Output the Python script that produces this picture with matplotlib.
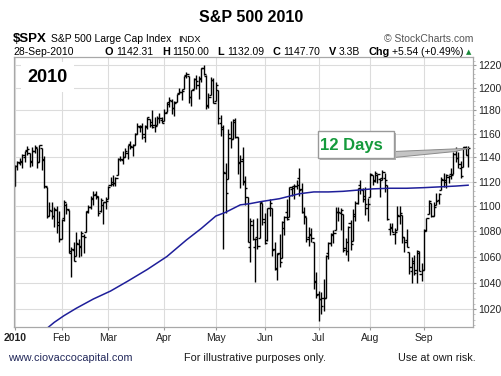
import numpy as np
import pandas as pd
import matplotlib
matplotlib.use('Agg')
import matplotlib.pyplot as plt
from matplotlib.patches import Rectangle, Polygon
from matplotlib.ticker import FixedLocator, FixedFormatter, NullFormatter

plt.rcParams['font.family'] = ['Liberation Sans', 'DejaVu Sans']

# trading days Jan 4 - Sep 28 2010
holidays = ['2010-01-18', '2010-02-15', '2010-04-02', '2010-05-31', '2010-07-05', '2010-09-06']
dates = [d for d in pd.bdate_range('2010-01-04', '2010-09-28').strftime('%Y-%m-%d') if d not in holidays]

opens = [
    1116.56,1132.66,1135.71,1136.27,1140.52,1145.96,1143.81,1137.31,1145.68,1147.72,1136.03,1147.95,1138.68,1115.49,1092.40,1095.80,1091.94,1096.93,1087.61,
    1073.89,1090.05,1100.67,1097.25,1064.12,1065.51,1060.06,1069.68,1067.10,1075.95,1079.13,1096.14,1099.03,1105.49,1110.00,1107.49,1095.89,1101.24,1103.10,
    1105.36,1117.01,1119.36,1119.12,1125.12,1138.40,1137.56,1140.22,1143.96,1151.71,1148.53,1150.83,1159.94,1166.13,1166.68,1157.25,1166.47,1172.70,1170.03,1167.58,1167.71,1173.75,1171.75,
    1171.23,1178.71,1186.01,1188.23,1181.75,1187.47,1194.94,1195.94,1198.69,1210.77,1210.17,1192.06,1199.04,1207.16,1202.52,1207.87,1217.07,1209.92,1184.59,1193.30,1206.77,
    1188.58,1197.50,1169.24,1164.38,1127.04,1122.27,1156.39,1155.43,1170.04,1157.19,1136.52,1138.78,1119.57,1107.34,1067.26,1084.78,1067.42,1075.51,1074.27,1102.59,
    1087.30,1073.01,1098.82,1098.43,1065.84,1050.81,1062.75,1058.77,1082.65,1095.00,1091.21,1114.02,1115.98,1116.16,1122.79,1113.90,1095.57,1090.93,1075.10,1077.50,1071.10,1040.56,
    1031.10,1027.65,1028.09,1028.54,1062.92,1070.50,1077.23,1080.65,1095.61,1094.46,1093.85,1066.85,1064.53,1086.67,1072.14,1092.17,1102.89,1117.36,1112.84,1108.07,1098.44,
    1107.53,1125.34,1121.06,1125.78,1122.07,1122.80,1122.92,1116.89,1081.48,1082.22,1077.49,1081.16,1092.08,1092.44,1075.63,1073.36,1063.20,1048.98,1056.28,1049.27,1062.90,1046.88,
    1049.72,1080.66,1093.61,1102.60,1092.36,1101.15,1104.57,1113.38,1121.16,1119.43,1123.89,1126.39,1126.57,1142.82,1139.49,1131.10,1131.69,1148.64,1142.31]

highs = [
    1133.87,1136.63,1139.19,1142.46,1145.39,1149.74,1143.81,1148.40,1150.41,1147.77,1150.45,1147.95,1141.58,1115.49,1102.97,1103.69,1099.51,1100.22,1096.45,
    1089.38,1104.73,1102.72,1097.25,1067.13,1071.20,1079.28,1073.67,1080.04,1077.81,1095.67,1101.03,1108.24,1112.42,1112.29,1108.58,1106.42,1103.50,1107.24,
    1116.11,1123.46,1125.64,1123.73,1139.38,1141.05,1145.37,1148.26,1150.24,1153.41,1150.98,1160.28,1169.20,1167.77,1169.20,1167.82,1174.72,1173.04,1180.69,1173.93,1174.85,1177.83,1174.56,
    1181.43,1187.73,1191.80,1189.60,1188.55,1194.66,1199.20,1199.04,1210.65,1213.92,1210.17,1197.87,1208.58,1210.99,1210.27,1217.28,1219.80,1211.38,1195.05,1209.36,1207.99,
    1205.13,1197.50,1175.95,1167.58,1135.13,1163.85,1170.48,1172.87,1173.57,1157.19,1141.88,1148.66,1124.27,1107.34,1090.16,1089.95,1074.75,1090.75,1103.52,1102.59,
    1094.77,1098.56,1105.67,1098.43,1071.36,1063.15,1077.74,1087.85,1092.25,1105.91,1115.59,1116.60,1117.72,1121.01,1131.23,1118.50,1099.64,1090.93,1083.56,1082.60,1071.10,1048.08,
    1033.58,1032.95,1042.50,1060.89,1071.25,1078.16,1080.78,1099.46,1099.08,1098.66,1093.85,1074.70,1083.94,1088.96,1097.50,1103.73,1115.01,1120.95,1114.66,1115.90,1106.44,
    1127.30,1125.44,1128.75,1126.56,1123.06,1129.24,1127.16,1116.89,1086.72,1086.25,1082.62,1100.14,1099.77,1092.44,1075.63,1081.58,1063.20,1059.38,1061.45,1065.21,1064.40,1055.14,
    1081.30,1090.10,1105.10,1102.60,1103.26,1110.27,1110.88,1123.87,1127.36,1126.46,1125.44,1131.47,1144.86,1148.59,1144.38,1136.77,1148.90,1149.92,1150.00]

lows = [
    1116.56,1129.66,1133.95,1131.32,1136.22,1142.02,1131.77,1133.18,1143.80,1131.39,1135.77,1129.25,1114.84,1090.18,1092.40,1089.86,1083.11,1078.46,1071.59,
    1073.89,1087.96,1093.97,1062.78,1044.50,1056.51,1060.06,1059.34,1060.59,1062.97,1079.13,1094.72,1097.48,1100.80,1105.38,1092.18,1095.50,1086.02,1097.56,
    1105.36,1116.51,1116.58,1116.66,1125.12,1136.77,1134.90,1140.09,1138.99,1146.97,1141.45,1150.35,1159.94,1161.16,1155.33,1152.88,1163.83,1166.01,1165.09,1161.48,1167.71,1168.92,1169.15,
    1170.69,1178.71,1182.77,1177.25,1175.12,1187.15,1194.71,1188.82,1198.69,1208.50,1186.77,1183.68,1199.04,1198.85,1190.19,1205.10,1211.07,1181.62,1181.81,1193.30,1186.32,
    1188.58,1168.12,1158.15,1065.79,1094.15,1122.27,1147.71,1155.43,1156.14,1126.14,1114.96,1117.20,1100.66,1071.58,1055.90,1072.70,1040.78,1065.59,1074.27,1084.78,
    1069.89,1072.03,1091.81,1060.50,1049.86,1042.17,1052.25,1058.77,1077.12,1089.03,1091.21,1107.96,1105.87,1113.93,1108.24,1094.18,1085.31,1071.60,1067.89,1071.45,1035.18,1028.33,
    1010.91,1015.93,1018.35,1028.54,1058.24,1068.10,1070.45,1080.65,1087.68,1080.53,1063.32,1061.11,1056.88,1065.25,1072.14,1087.88,1101.30,1109.78,1103.11,1092.82,1088.01,
    1107.53,1116.76,1119.46,1118.81,1107.17,1120.91,1111.58,1088.55,1076.69,1079.00,1069.49,1081.16,1085.76,1070.66,1063.91,1067.08,1046.68,1039.83,1045.40,1039.70,1048.79,1040.88,
    1049.72,1080.39,1093.61,1091.15,1092.36,1101.15,1101.66,1113.38,1115.58,1114.63,1118.88,1122.43,1126.57,1136.22,1131.58,1122.79,1131.69,1142.00,1132.09]

closes = [
    1132.99,1136.52,1137.14,1141.69,1144.98,1146.98,1136.22,1145.68,1148.46,1136.03,1150.23,1138.04,1116.48,1091.76,1096.78,1092.17,1097.50,1084.53,1073.87,
    1089.19,1103.32,1097.28,1063.11,1066.19,1056.74,1070.52,1068.13,1078.47,1075.51,1094.87,1099.51,1106.75,1109.17,1108.01,1094.60,1105.24,1102.94,1104.49,
    1115.71,1118.31,1118.79,1122.97,1138.70,1138.50,1140.45,1145.61,1150.24,1149.99,1150.51,1159.46,1166.21,1165.83,1159.90,1165.81,1174.17,1167.72,1165.73,1166.59,1173.22,1173.27,1169.43,
    1178.10,1187.44,1189.44,1182.45,1186.44,1194.37,1196.48,1197.30,1210.65,1211.67,1192.13,1197.52,1207.17,1205.94,1208.67,1217.28,1212.05,1183.71,1191.36,1206.78,1186.69,
    1202.26,1173.60,1165.90,1128.15,1110.88,1159.73,1155.79,1171.67,1157.44,1135.68,1136.94,1120.80,1115.05,1071.59,1087.69,1073.65,1074.03,1067.95,1103.06,1089.41,
    1070.71,1098.38,1102.83,1064.88,1050.47,1062.00,1055.69,1086.84,1091.60,1089.63,1115.23,1114.61,1116.04,1117.51,1113.20,1095.31,1092.04,1073.69,1076.76,1074.57,1041.24,1030.71,
    1027.37,1022.58,1028.06,1060.27,1070.25,1077.96,1078.75,1095.34,1095.17,1096.48,1064.88,1071.25,1083.48,1069.59,1093.67,1102.66,1115.01,1113.84,1106.13,1101.53,1101.60,
    1125.86,1120.46,1127.24,1125.81,1121.64,1127.79,1121.06,1089.47,1083.61,1079.25,1079.38,1092.54,1094.16,1075.63,1071.69,1067.36,1051.87,1055.33,1047.22,1064.59,1048.92,1049.33,
    1080.29,1090.10,1104.51,1091.84,1098.87,1104.18,1109.55,1121.90,1121.10,1125.07,1124.66,1125.59,1142.71,1139.78,1134.28,1124.83,1148.67,1142.16,1147.70]

# 200 day moving average
ma_dates = ['2010-01-21','2010-01-27','2010-02-02','2010-02-09','2010-02-19','2010-03-02','2010-03-11','2010-03-23',
            '2010-04-05','2010-04-15','2010-04-23','2010-05-03','2010-05-07','2010-05-12','2010-05-17','2010-05-21',
            '2010-05-27','2010-06-09','2010-06-21','2010-06-29','2010-07-08','2010-07-16','2010-07-26','2010-08-03',
            '2010-08-12','2010-08-23','2010-09-01','2010-09-13','2010-09-21','2010-09-28']
ma_vals = [1004,1010,1015,1020.5,1027.5,1033.5,1041,1050,1060,1073,1082,1092,1095,1098,1101,1102,
           1103.5,1106,1110,1111.5,1111.5,1112,1113,1114,1114.5,1114.5,1115,1115.7,1116.3,1117]

month_labels = ['2010', 'Feb', 'Mar', 'Apr', 'May', 'Jun', 'Jul', 'Aug', 'Sep']
y_ticks = [1020, 1040, 1060, 1080, 1100, 1120, 1140, 1160, 1180, 1200, 1220]
quote = [('O', '1142.31'), ('H', '1150.00'), ('L', '1132.09'), ('C', '1147.70'),
         ('V', '3.3B'), ('Chg', '+5.54 (+0.49%)')]

W, H = 502, 376
def fx(px):
    return px / W
def fy(py):
    return 1 - py / H

fig = plt.figure(figsize=(5.02, 3.76), dpi=100)
ax = fig.add_axes([fx(14), fy(327), (473 - 14) / W, (327 - 57) / H])

x = np.arange(len(dates))
pos = {d: i for i, d in enumerate(dates)}
ax.vlines(x, lows, highs, color='black', lw=1.0)
ax.hlines(opens, x - 0.9, x, color='black', lw=1.0)
ax.hlines(closes, x, x + 0.9, color='black', lw=1.0)

ax.plot([pos[d] for d in ma_dates], ma_vals, color='#1f1f9a', lw=1.1)

ax.set_yscale('log')
ax.set_ylim(1006.6, 1227.2)
ax.set_xlim(-0.4, 187)

ax.yaxis.tick_right()
ax.yaxis.set_major_locator(FixedLocator(y_ticks))
ax.yaxis.set_major_formatter(FixedFormatter([str(v) for v in y_ticks]))
ax.yaxis.set_minor_locator(FixedLocator(list(range(1008, 1228, 4))))
ax.yaxis.set_minor_formatter(NullFormatter())

month_starts = [i for i, d in enumerate(dates) if i == 0 or d[5:7] != dates[i - 1][5:7]]
ax.set_xticks(month_starts)
ax.set_xticklabels(month_labels)
ax.get_xticklabels()[0].set_fontweight('bold')

ax.tick_params(axis='both', which='major', length=2.5, color='#999999', labelsize=7.5, labelcolor='#222222')
ax.tick_params(axis='y', which='major', pad=1.5)
ax.tick_params(axis='x', which='major', pad=2)
ax.tick_params(axis='y', which='minor', length=1.5, color='#bbbbbb')
ax.grid(True, which='major', color='#dcdcdc', lw=0.8)
ax.set_axisbelow(True)
for s in ax.spines.values():
    s.set_color('#a8a8a8')
    s.set_linewidth(0.9)

# label inside the chart
ax.text(fx(27), fy(77), '2010', transform=fig.transFigure, ha='left', va='center',
        fontsize=13, fontweight='bold', color='black',
        bbox=dict(boxstyle='square,pad=0.35', fc='white', ec='none'))

# header
fig.text(fx(251), fy(17), 'S&P 500 2010', ha='center', va='center', fontsize=11.5, fontweight='bold')
fig.text(fx(13), fy(39), '$SPX', ha='left', va='center', fontsize=9.5, fontweight='bold')
fig.text(fx(51), fy(39), 'S&P 500 Large Cap Index', ha='left', va='center', fontsize=7.5)
fig.text(fx(178), fy(39), 'INDX', ha='left', va='center', fontsize=6.8)
fig.text(fx(473), fy(39), '© StockCharts.com', ha='right', va='center', fontsize=7.5, color='#555555')
fig.text(fx(13), fy(52), '28-Sep-2010', ha='left', va='center', fontsize=7.5)

# quote line: measure pieces, then spread them between x=105 and x=464
renderer = fig.canvas.get_renderer()
pieces = []
for lab, val in quote:
    t1 = fig.text(0, fy(52), lab, ha='left', va='center', fontsize=7.8, fontweight='bold')
    t2 = fig.text(0, fy(52), val, ha='left', va='center', fontsize=7.5)
    pieces.append((t1, t2))
inner = 3.0
widths = [(a.get_window_extent(renderer).width, b.get_window_extent(renderer).width) for a, b in pieces]
total = sum(w1 + inner + w2 for w1, w2 in widths)
gap = (464 - 105 - total) / (len(pieces) - 1)
cur = 105.0
for (a, b), (w1, w2) in zip(pieces, widths):
    a.set_x(fx(cur))
    b.set_x(fx(cur + w1 + inner))
    cur += w1 + inner + w2 + gap
fig.text(fx(466), fy(52), '▲', ha='left', va='center', fontsize=5, color='#1a8a3a',
         family=['DejaVu Sans'])

# footer
fig.text(fx(8), fy(358), 'www.ciovaccocapital.com', ha='left', va='center', fontsize=7.8, color='#22285a')
fig.text(fx(184), fy(358), 'For illustrative purposes only.', ha='left', va='center', fontsize=7.8, color='#1a1a1a')
fig.text(fx(398), fy(358), 'Use at own risk.', ha='left', va='center', fontsize=7.8, color='#1a1a1a')

# "12 Days" callout
wedge = [(fx(394), fy(151.5)), (fx(469), fy(148.3)), (fx(455), fy(151.5)), (fx(394), fy(157.5))]
fig.add_artist(Polygon(wedge, closed=True, transform=fig.transFigure, fc='#c4c4c4', ec='#8a8a8a', lw=0.7, zorder=5))
fig.add_artist(Rectangle((fx(320), fy(160)), 76 / W, 27 / H, transform=fig.transFigure,
                         fc='#b0b0b0', ec='none', zorder=5))
fig.add_artist(Rectangle((fx(318), fy(158)), 76 / W, 27 / H, transform=fig.transFigure,
                         fc='white', ec='#999999', lw=1.0, zorder=6))
fig.text(fx(351.5), fy(145.5), '12 Days', ha='center', va='center', fontsize=12,
         fontweight='bold', color='#159a3c', zorder=7)

fig.savefig('out.png', dpi=100, facecolor='white')
